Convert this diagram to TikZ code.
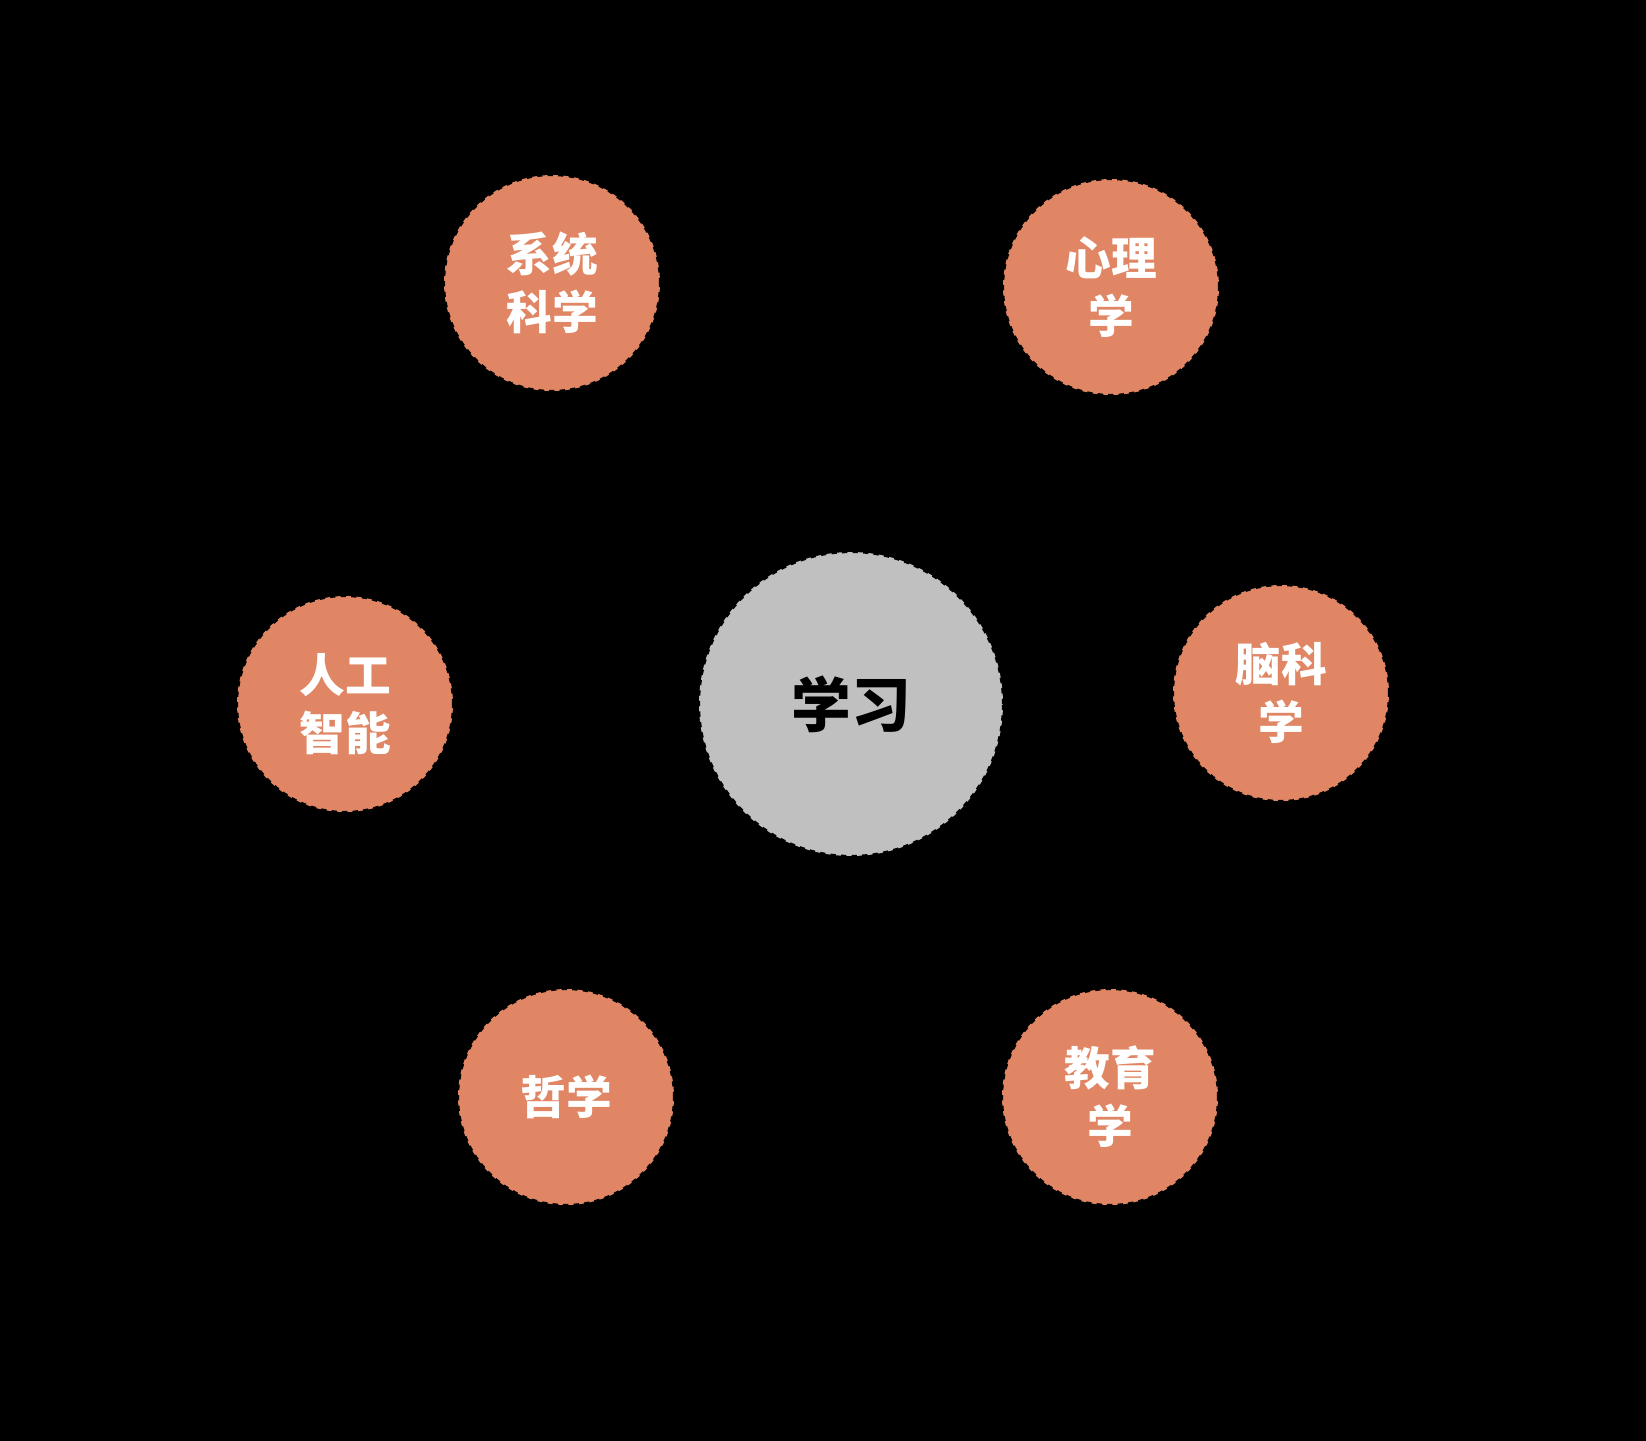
\documentclass[tikz,border=0pt]{standalone}
\usepackage{fontspec}
\newfontfamily\cjk{Noto Sans CJK SC}
\definecolor{orangeA}{HTML}{E08664}
\definecolor{grayA}{HTML}{C0C0C0}
\begin{document}
\begin{tikzpicture}[x=0.02cm,y=-0.02cm,
  field/.style={circle,fill=orangeA,draw=black,dashed,line width=1.2pt,minimum size=4.32cm,inner sep=0pt,align=center,text=white,font=\cjk\bfseries\fontsize{26}{33}\selectfont},
  core/.style={circle,fill=grayA,draw=black,dashed,line width=1.2pt,minimum size=6.08cm,inner sep=0pt,align=center,text=black,font=\cjk\bfseries\fontsize{34}{40}\selectfont}]
\useasboundingbox (0,0) rectangle (1646,1440);
\fill[black] (-10,-10) rectangle (1656,1450);
\node[core] (learn) at (851,704) {学习};
\node[field] (sys) at (552,283) {系统\\科学};
\node[field] (psy) at (1111,287) {心理\\学};
\node[field] (ai) at (345,704) {人工\\智能};
\node[field] (brain) at (1281,693) {脑科\\学};
\node[field] (phil) at (566,1097) {哲学};
\node[field] (edu) at (1110,1097) {教育\\学};
\end{tikzpicture}
\end{document}
